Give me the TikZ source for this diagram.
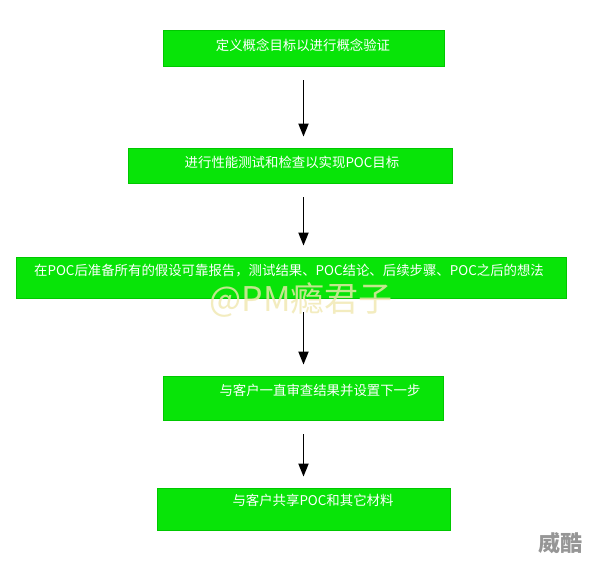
\documentclass[tikz,border=0pt]{standalone}
\usepackage{fontspec}
\usetikzlibrary{arrows.meta}
\newfontfamily\cjk{Noto Sans CJK SC}
\definecolor{boxgreen}{RGB}{8,228,8}
\definecolor{boxedge}{RGB}{0,200,0}
\definecolor{wmark}{RGB}{240,232,175}
\definecolor{wgray}{RGB}{150,150,150}
\begin{document}
\begin{tikzpicture}[x=1pt,y=-1pt,
  stepbox/.style={draw=boxedge,line width=0.8pt,fill=boxgreen,inner sep=0pt,rectangle},
  steptext/.style={text=white,font=\cjk\fontsize{13.4}{15}\selectfont,inner sep=0pt,anchor=center},
  arr/.style={line width=1.8pt,-{Triangle[width=10pt,length=13pt]},shorten <=14pt,shorten >=11pt}]
\useasboundingbox[fill=white] (0,0) rectangle (594,561);
% boxes
\node[stepbox,minimum width=281pt,minimum height=36pt] (b1) at (303.5,48) {};
\node[stepbox,minimum width=324pt,minimum height=35pt] (b2) at (290,165.5) {};
\node[stepbox,minimum width=550pt,minimum height=41pt] (b3) at (291,277.5) {};
\node[stepbox,minimum width=280pt,minimum height=44pt] (b4) at (303,398) {};
\node[stepbox,minimum width=293pt,minimum height=42pt] (b5) at (303.5,509) {};
% texts
\node[steptext] (t1) at (303,45) {定义概念目标以进行概念验证};
\node[steptext] (t2) at (292,162) {进行性能测试和检查以实现POC目标};
\node[steptext] (t3) at (289,271) {在POC后准备所有的假设可靠报告，测试结果、POC结论、后续步骤、POC之后的想法};
\node[steptext] (t4) at (320,390) {与客户一直审查结果并设置下一步};
\node[steptext] (t5) at (313,500) {与客户共享POC和其它材料};
% arrows
\draw[arr] (b1.south) -- (b2.north -| b1.south);
\draw[arr] (b2.south -| b1.south) -- (b3.north -| b1.south);
\draw[arr] (b3.south -| b1.south) -- (b4.north -| b1.south);
\draw[arr] (b4.south -| b1.south) -- (b5.north -| b1.south);
% watermarks
\node[text=wmark,text opacity=0.8,font=\cjk\fontsize{34}{36}\selectfont,inner sep=0pt] (wm) at (301,300) {@PM瘾君子};
\node[text=wgray,font=\cjk\bfseries\fontsize{22}{24}\selectfont,inner sep=0pt] (wm2) at (560,543) {威酷};
\end{tikzpicture}
\end{document}
